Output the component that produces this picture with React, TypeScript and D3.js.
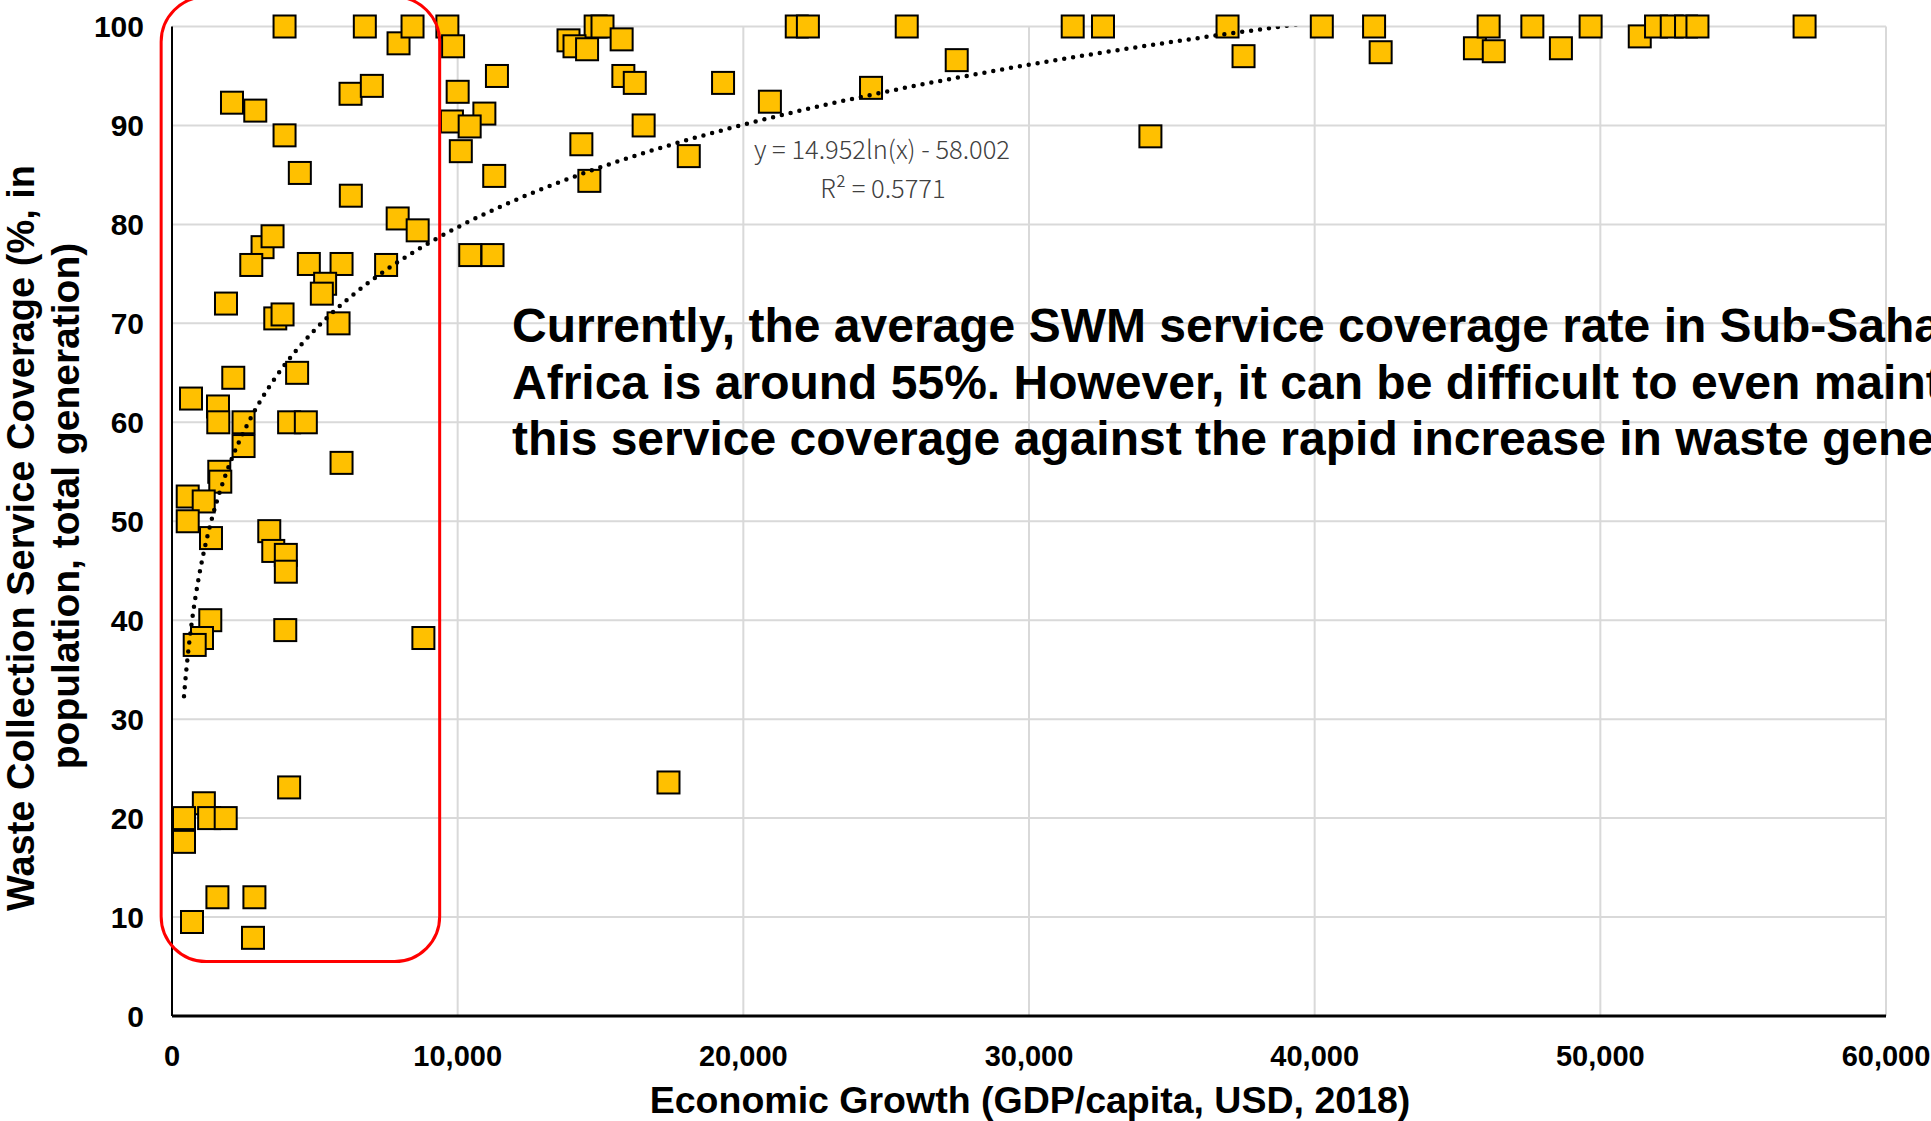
import React from 'react';
import * as d3 from 'd3';

// GDP per capita (USD, 2018) and waste collection coverage (%)
const gdp = [
  3940, 6750, 7930, 8420, 9640, 9840, 2100, 2915, 3940, 4475, 6250, 6995, 6260, 7900, 8600,
  3170, 3520, 2775, 4790, 5935, 5360, 5245, 7495, 1890, 3615, 3870, 5830, 2145, 4380, 665, 1610,
  1620, 2505, 2505, 4100, 4685, 5935, 1655, 1690, 550, 1110, 550, 1365, 3405, 3545, 3985, 3985,
  1340, 1050, 795, 3965, 8800, 4100, 1115, 1300, 1880, 420, 420, 1590, 2885, 700, 2835,
  10000, 10935, 9800, 10420, 10110, 11375, 11280, 10440, 11220,
  13880, 14830, 15070, 14090, 14530, 15740, 15800, 16200, 16510, 14330, 14610, 19290, 18090,
  20930, 21870, 22260, 25720, 24470, 27470, 17380,
  31530, 32590, 36950, 37510, 34250, 40250, 42080, 42310, 45610, 46090, 46270, 47620, 48620,
  49660, 51380, 51950, 52500, 53000, 53400, 57150,
];
const coverage = [
  100, 100, 98.3, 100, 100, 98.0, 92.3, 91.5, 89.0, 85.2, 93.2, 94.0, 82.9, 80.6, 79.4,
  77.7, 78.8, 75.9, 76.0, 76.0, 74.0, 73.0, 75.9, 72.0, 70.5, 70.9, 70.0, 64.5, 65.0, 62.4, 61.6,
  60.0, 60.0, 57.6, 60.0, 60.0, 55.9, 55.0, 54.0, 52.5, 52.0, 50.0, 48.3, 49.0, 47.0, 46.6, 44.9,
  40.0, 38.2, 37.5, 39.0, 38.2, 23.1, 21.5, 20.0, 20.0, 20.0, 17.6, 12.0, 12.0, 9.5, 7.9,
  93.4, 91.2, 90.4, 89.9, 87.4, 95.0, 84.9, 76.9, 76.9,
  98.6, 100, 100, 98.0, 97.7, 98.7, 95.0, 94.3, 90.0, 88.1, 84.4, 94.3, 86.9,
  92.4, 100, 100, 100, 93.8, 96.6, 23.6,
  100, 100, 100, 97.0, 88.9, 100, 100, 97.4, 97.8, 100, 97.5, 100, 97.8,
  100, 99.0, 100, 100, 100, 100, 100,
];

const xTicks = [0, 10000, 20000, 30000, 40000, 50000, 60000];
const yTicks = [0, 10, 20, 30, 40, 50, 60, 70, 80, 90, 100];

// logarithmic trendline reported on the chart
const trendA = 14.952;
const trendB = -58.002;

// highlighted low-income group (in data units)
const boxX = [-380, 9370];
const boxY = [5.5, 103];

const noteLines = [
  'Currently, the average SWM service coverage rate in Sub-Saharan',
  'Africa is around 55%. However, it can be difficult to even maintain',
  'this service coverage against the rapid increase in waste generation.',
];

const App = () => {
  const W = 1931;
  const H = 1121;
  const x = d3.scaleLinear().domain([0, 60000]).range([172, 1886]);
  const y = d3.scaleLinear().domain([0, 100]).range([1016, 26.5]);
  const fmt = d3.format(',');

  const points = gdp.map((g, i) => ({ g, c: coverage[i] }));
  const xmin = d3.min(gdp) as number;
  const xmax = d3.max(gdp) as number;
  const trend = d3.range(0, 401).map(i => {
    const gx = xmin * Math.pow(xmax / xmin, i / 400);
    return [gx, trendA * Math.log(gx) + trendB];
  });
  const line = d3.line<number[]>().x(d => x(d[0])).y(d => y(d[1]));
  const sz = 22;
  const font = '"Liberation Sans", Arial, sans-serif';

  return (
    <svg width={W} height={H} style={{ display: 'block', overflow: 'hidden' }} fontFamily={font}>
      <style>{`body{margin:0}`}</style>
      <defs>
        <clipPath id="plot">
          <rect x={x(0)} y={y(100)} width={x(60000) - x(0)} height={y(0) - y(100)} />
        </clipPath>
      </defs>
      <rect width={W} height={H} fill="#fff" />
      {yTicks.filter(t => t > 0).map(t =>
        <line key={'gy' + t} x1={x(0)} x2={x(60000)} y1={y(t)} y2={y(t)} stroke="#D9D9D9" strokeWidth={2} />
      )}
      {xTicks.filter(t => t > 0).map(t =>
        <line key={'gx' + t} x1={x(t)} x2={x(t)} y1={y(0)} y2={y(100)} stroke="#D9D9D9" strokeWidth={2} />
      )}
      <line x1={x(0)} x2={x(0)} y1={y(0)} y2={y(100)} stroke="#000" strokeWidth={2} />
      <line x1={x(0)} x2={x(60000)} y1={y(0)} y2={y(0)} stroke="#000" strokeWidth={3} />

      {yTicks.map(t =>
        <text key={'ty' + t} x={144} y={y(t) + 10.5} textAnchor="end" fontSize={30} fontWeight="bold">{t}</text>
      )}
      {xTicks.map(t =>
        <text key={'tx' + t} x={x(t)} y={1066} textAnchor="middle" fontSize={29} fontWeight="bold">{fmt(t)}</text>
      )}

      <text x={1030} y={1113} textAnchor="middle" fontSize={37.5} fontWeight="bold">Economic Growth (GDP/capita, USD, 2018)</text>
      <text transform="translate(34,538) rotate(-90)" textAnchor="middle" fontSize={38} fontWeight="bold">Waste Collection Service Coverage (%, in</text>
      <text transform="translate(79,506) rotate(-90)" textAnchor="middle" fontSize={39} fontWeight="bold">population, total generation)</text>

      {points.map((d, i) =>
        <rect key={i} x={x(d.g) - sz / 2} y={y(d.c) - sz / 2} width={sz} height={sz}
          fill="#FFC000" stroke="#000" strokeWidth={2} />
      )}

      <path d={line(trend) || ''} clipPath="url(#plot)" fill="none" stroke="#000"
        strokeWidth={4.5} strokeDasharray="0 9" strokeLinecap="round" />

      <g fontFamily='"Noto Sans CJK JP", "Noto Sans", sans-serif' fontWeight={300} fill="#404040" fontSize={25.5} textAnchor="middle">
        <text x={882} y={159}>y = 14.952ln(x) - 58.002</text>
        <text x={883} y={198}>R² = 0.5771</text>
      </g>

      <rect x={x(boxX[0])} y={y(boxY[1])} width={x(boxX[1]) - x(boxX[0])} height={y(boxY[0]) - y(boxY[1])}
        rx={45} ry={45} fill="none" stroke="#FF0000" strokeWidth={3} />

      {noteLines.map((t, i) =>
        <text key={i} x={512} y={342 + i * 56.6} fontSize={48} fontWeight="bold">{t}</text>
      )}
    </svg>
  );
};

export default App;
